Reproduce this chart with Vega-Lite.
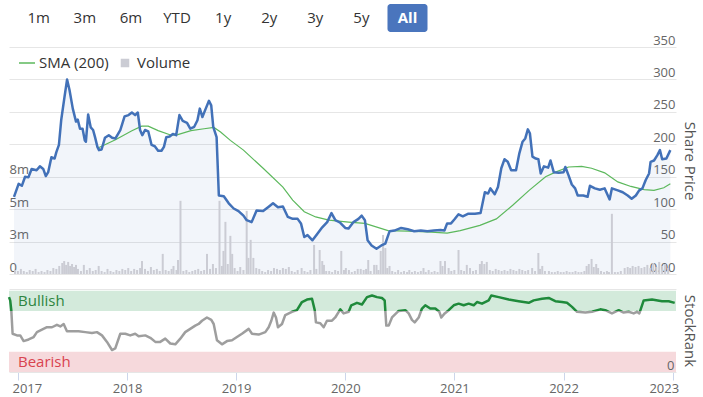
{
"$schema": "https://vega.github.io/schema/vega-lite/v6.json",
"padding": {"left": 7, "top": 4, "right": 6, "bottom": 0},
"bounds": "flush",
"spacing": 15,
"resolve": {"scale": {"x": "independent", "y": "independent", "color": "independent"}},
"config": {"view": {"stroke": null}, "font": "Open Sans"},
"datasets": {
"buttons": [{"label":"1m"},{"label":"3m"},{"label":"6m"},{"label":"YTD"},{"label":"1y"},{"label":"2y"},{"label":"3y"},{"label":"5y"},{"label":"All"}],
"bands": [{"band":"Bullish","lo":75,"hi":100},{"band":"Bearish","lo":0,"hi":25}],
"price": [
{"t":2016.918,"p":119},{"t":2016.961,"p":139},{"t":2016.991,"p":136},{"t":2017.021,"p":150},{"t":2017.052,"p":149},{"t":2017.082,"p":162},{"t":2017.128,"p":160},{"t":2017.159,"p":166},{"t":2017.19,"p":162},{"t":2017.214,"p":151},{"t":2017.236,"p":157},{"t":2017.266,"p":180},{"t":2017.296,"p":178},{"t":2017.312,"p":188},{"t":2017.336,"p":199},{"t":2017.357,"p":237},{"t":2017.388,"p":273},{"t":2017.412,"p":300},{"t":2017.434,"p":284},{"t":2017.465,"p":255},{"t":2017.495,"p":235},{"t":2017.511,"p":238},{"t":2017.532,"p":224},{"t":2017.556,"p":224},{"t":2017.577,"p":206},{"t":2017.587,"p":204},{"t":2017.608,"p":246},{"t":2017.632,"p":226},{"t":2017.654,"p":222},{"t":2017.672,"p":211},{"t":2017.694,"p":196},{"t":2017.709,"p":191},{"t":2017.733,"p":192},{"t":2017.764,"p":210},{"t":2017.8,"p":214},{"t":2017.831,"p":210},{"t":2017.862,"p":209},{"t":2017.907,"p":222},{"t":2017.947,"p":243},{"t":2017.984,"p":245},{"t":2018.015,"p":249},{"t":2018.045,"p":245},{"t":2018.07,"p":249},{"t":2018.091,"p":222},{"t":2018.112,"p":214},{"t":2018.137,"p":222},{"t":2018.167,"p":220},{"t":2018.198,"p":199},{"t":2018.228,"p":197},{"t":2018.259,"p":190},{"t":2018.29,"p":190},{"t":2018.313,"p":196},{"t":2018.335,"p":211},{"t":2018.366,"p":212},{"t":2018.396,"p":216},{"t":2018.427,"p":214},{"t":2018.457,"p":245},{"t":2018.488,"p":236},{"t":2018.528,"p":233},{"t":2018.558,"p":224},{"t":2018.595,"p":227},{"t":2018.625,"p":237},{"t":2018.647,"p":255},{"t":2018.671,"p":242},{"t":2018.702,"p":255},{"t":2018.732,"p":267},{"t":2018.753,"p":260},{"t":2018.772,"p":227},{"t":2018.803,"p":211},{"t":2018.824,"p":121},{"t":2018.87,"p":120},{"t":2018.916,"p":109},{"t":2018.962,"p":101},{"t":2019.007,"p":97},{"t":2019.053,"p":90},{"t":2019.083,"p":83},{"t":2019.129,"p":80},{"t":2019.175,"p":98},{"t":2019.236,"p":97},{"t":2019.282,"p":103},{"t":2019.328,"p":109},{"t":2019.374,"p":103},{"t":2019.42,"p":104},{"t":2019.466,"p":88},{"t":2019.511,"p":85},{"t":2019.557,"p":85},{"t":2019.588,"p":78},{"t":2019.619,"p":57},{"t":2019.649,"p":60},{"t":2019.695,"p":52},{"t":2019.741,"p":62},{"t":2019.786,"p":72},{"t":2019.832,"p":80},{"t":2019.872,"p":94},{"t":2019.908,"p":83},{"t":2019.954,"p":79},{"t":2020.0,"p":71},{"t":2020.031,"p":70},{"t":2020.077,"p":80},{"t":2020.123,"p":85},{"t":2020.153,"p":90},{"t":2020.183,"p":83},{"t":2020.208,"p":52},{"t":2020.245,"p":44},{"t":2020.291,"p":39},{"t":2020.336,"p":44},{"t":2020.373,"p":47},{"t":2020.413,"p":66},{"t":2020.458,"p":67},{"t":2020.52,"p":71},{"t":2020.581,"p":69},{"t":2020.642,"p":66},{"t":2020.703,"p":67},{"t":2020.764,"p":66},{"t":2020.825,"p":67},{"t":2020.886,"p":68},{"t":2020.923,"p":67},{"t":2020.948,"p":78},{"t":2020.984,"p":78},{"t":2021.015,"p":84},{"t":2021.054,"p":92},{"t":2021.094,"p":89},{"t":2021.146,"p":93},{"t":2021.207,"p":93},{"t":2021.259,"p":94},{"t":2021.299,"p":126},{"t":2021.329,"p":124},{"t":2021.351,"p":132},{"t":2021.391,"p":123},{"t":2021.421,"p":134},{"t":2021.452,"p":163},{"t":2021.482,"p":177},{"t":2021.512,"p":173},{"t":2021.544,"p":160},{"t":2021.589,"p":160},{"t":2021.62,"p":186},{"t":2021.65,"p":204},{"t":2021.675,"p":209},{"t":2021.699,"p":223},{"t":2021.718,"p":217},{"t":2021.742,"p":181},{"t":2021.773,"p":178},{"t":2021.797,"p":177},{"t":2021.819,"p":155},{"t":2021.849,"p":166},{"t":2021.888,"p":164},{"t":2021.91,"p":175},{"t":2021.94,"p":157},{"t":2021.986,"p":156},{"t":2022.032,"p":157},{"t":2022.048,"p":165},{"t":2022.078,"p":152},{"t":2022.108,"p":138},{"t":2022.139,"p":132},{"t":2022.163,"p":121},{"t":2022.215,"p":121},{"t":2022.255,"p":119},{"t":2022.277,"p":136},{"t":2022.323,"p":132},{"t":2022.369,"p":130},{"t":2022.414,"p":132},{"t":2022.46,"p":115},{"t":2022.481,"p":132},{"t":2022.536,"p":129},{"t":2022.582,"p":126},{"t":2022.628,"p":121},{"t":2022.665,"p":116},{"t":2022.704,"p":121},{"t":2022.735,"p":129},{"t":2022.765,"p":132},{"t":2022.796,"p":145},{"t":2022.827,"p":155},{"t":2022.841,"p":173},{"t":2022.873,"p":175},{"t":2022.903,"p":183},{"t":2022.928,"p":191},{"t":2022.949,"p":177},{"t":2022.988,"p":178},{"t":2023.025,"p":191}
],
"sma": [
{"t":2017.709,"s":195},{"t":2017.862,"s":207},{"t":2018.015,"s":221},{"t":2018.106,"s":228},{"t":2018.167,"s":228},{"t":2018.259,"s":221},{"t":2018.381,"s":214},{"t":2018.442,"s":215},{"t":2018.565,"s":221},{"t":2018.687,"s":224},{"t":2018.778,"s":226},{"t":2018.84,"s":219},{"t":2018.931,"s":206},{"t":2019.053,"s":191},{"t":2019.236,"s":163},{"t":2019.42,"s":134},{"t":2019.511,"s":114},{"t":2019.619,"s":96},{"t":2019.725,"s":88},{"t":2019.848,"s":83},{"t":2020.031,"s":80},{"t":2020.183,"s":78},{"t":2020.398,"s":67},{"t":2020.581,"s":66},{"t":2020.764,"s":65},{"t":2020.948,"s":63},{"t":2021.07,"s":67},{"t":2021.253,"s":75},{"t":2021.406,"s":85},{"t":2021.558,"s":106},{"t":2021.711,"s":129},{"t":2021.864,"s":150},{"t":2021.956,"s":157},{"t":2022.078,"s":165},{"t":2022.2,"s":166},{"t":2022.292,"s":163},{"t":2022.414,"s":156},{"t":2022.536,"s":142},{"t":2022.658,"s":135},{"t":2022.781,"s":130},{"t":2022.873,"s":129},{"t":2022.964,"s":133},{"t":2023.025,"s":139}
],
"rank": [
{"t":2016.918,"r":92},{"t":2016.929,"r":88},{"t":2016.939,"r":76},{"t":2016.951,"r":47},{"t":2016.991,"r":45},{"t":2017.021,"r":45},{"t":2017.052,"r":38},{"t":2017.098,"r":40},{"t":2017.144,"r":43},{"t":2017.174,"r":49},{"t":2017.22,"r":52},{"t":2017.266,"r":55},{"t":2017.312,"r":55},{"t":2017.357,"r":58},{"t":2017.388,"r":56},{"t":2017.419,"r":59},{"t":2017.449,"r":50},{"t":2017.495,"r":50},{"t":2017.556,"r":50},{"t":2017.617,"r":49},{"t":2017.678,"r":48},{"t":2017.724,"r":49},{"t":2017.77,"r":45},{"t":2017.816,"r":37},{"t":2017.862,"r":27},{"t":2017.892,"r":29},{"t":2017.938,"r":47},{"t":2017.984,"r":47},{"t":2018.029,"r":45},{"t":2018.075,"r":47},{"t":2018.106,"r":44},{"t":2018.167,"r":45},{"t":2018.213,"r":42},{"t":2018.259,"r":37},{"t":2018.304,"r":37},{"t":2018.35,"r":41},{"t":2018.396,"r":35},{"t":2018.442,"r":34},{"t":2018.488,"r":41},{"t":2018.533,"r":49},{"t":2018.579,"r":53},{"t":2018.625,"r":57},{"t":2018.656,"r":59},{"t":2018.687,"r":63},{"t":2018.732,"r":67},{"t":2018.772,"r":64},{"t":2018.794,"r":59},{"t":2018.824,"r":39},{"t":2018.87,"r":34},{"t":2018.916,"r":38},{"t":2018.962,"r":39},{"t":2019.007,"r":43},{"t":2019.053,"r":47},{"t":2019.115,"r":53},{"t":2019.145,"r":47},{"t":2019.206,"r":46},{"t":2019.267,"r":49},{"t":2019.298,"r":55},{"t":2019.322,"r":63},{"t":2019.344,"r":73},{"t":2019.365,"r":67},{"t":2019.383,"r":55},{"t":2019.42,"r":59},{"t":2019.45,"r":70},{"t":2019.511,"r":74},{"t":2019.557,"r":76},{"t":2019.603,"r":86},{"t":2019.649,"r":89},{"t":2019.695,"r":90},{"t":2019.72,"r":76},{"t":2019.731,"r":61},{"t":2019.771,"r":60},{"t":2019.802,"r":55},{"t":2019.832,"r":63},{"t":2019.878,"r":63},{"t":2019.908,"r":67},{"t":2019.954,"r":77},{"t":2019.985,"r":72},{"t":2020.031,"r":74},{"t":2020.055,"r":82},{"t":2020.107,"r":85},{"t":2020.153,"r":83},{"t":2020.199,"r":92},{"t":2020.245,"r":94},{"t":2020.291,"r":92},{"t":2020.336,"r":91},{"t":2020.361,"r":88},{"t":2020.376,"r":57},{"t":2020.398,"r":57},{"t":2020.428,"r":67},{"t":2020.489,"r":75},{"t":2020.55,"r":76},{"t":2020.581,"r":72},{"t":2020.611,"r":64},{"t":2020.636,"r":61},{"t":2020.673,"r":67},{"t":2020.703,"r":78},{"t":2020.733,"r":82},{"t":2020.779,"r":78},{"t":2020.825,"r":78},{"t":2020.862,"r":74},{"t":2020.88,"r":67},{"t":2020.911,"r":72},{"t":2020.948,"r":76},{"t":2020.994,"r":82},{"t":2021.039,"r":84},{"t":2021.085,"r":82},{"t":2021.131,"r":84},{"t":2021.177,"r":82},{"t":2021.207,"r":86},{"t":2021.253,"r":84},{"t":2021.314,"r":88},{"t":2021.338,"r":94},{"t":2021.406,"r":92},{"t":2021.498,"r":89},{"t":2021.589,"r":87},{"t":2021.681,"r":85},{"t":2021.727,"r":88},{"t":2021.803,"r":90},{"t":2021.864,"r":91},{"t":2021.925,"r":87},{"t":2021.986,"r":86},{"t":2022.032,"r":85},{"t":2022.078,"r":80},{"t":2022.124,"r":74},{"t":2022.2,"r":73},{"t":2022.261,"r":74},{"t":2022.337,"r":77},{"t":2022.383,"r":76},{"t":2022.444,"r":72},{"t":2022.506,"r":76},{"t":2022.551,"r":73},{"t":2022.597,"r":74},{"t":2022.643,"r":72},{"t":2022.673,"r":74},{"t":2022.695,"r":72},{"t":2022.735,"r":88},{"t":2022.811,"r":89},{"t":2022.903,"r":87},{"t":2022.964,"r":87},{"t":2023.019,"r":85}
],
"volume": [
{"t":2016.927,"v":0.31},{"t":2016.954,"v":0.23},{"t":2016.982,"v":0.39},{"t":2017.009,"v":0.23},{"t":2017.037,"v":0.15},{"t":2017.064,"v":0.31},{"t":2017.092,"v":0.23},{"t":2017.119,"v":0.39},{"t":2017.147,"v":0.15},{"t":2017.174,"v":0.23},{"t":2017.202,"v":0.15},{"t":2017.229,"v":0.31},{"t":2017.257,"v":0.23},{"t":2017.284,"v":0.46},{"t":2017.312,"v":0.39},{"t":2017.339,"v":0.62},{"t":2017.367,"v":0.85},{"t":2017.385,"v":1.0},{"t":2017.403,"v":0.7},{"t":2017.422,"v":0.93},{"t":2017.44,"v":0.62},{"t":2017.458,"v":0.77},{"t":2017.477,"v":0.54},{"t":2017.495,"v":0.7},{"t":2017.513,"v":0.39},{"t":2017.541,"v":0.23},{"t":2017.568,"v":0.7},{"t":2017.596,"v":0.31},{"t":2017.623,"v":0.46},{"t":2017.651,"v":0.23},{"t":2017.678,"v":0.31},{"t":2017.706,"v":0.62},{"t":2017.733,"v":0.23},{"t":2017.761,"v":0.15},{"t":2017.788,"v":0.39},{"t":2017.816,"v":0.23},{"t":2017.843,"v":0.15},{"t":2017.871,"v":0.31},{"t":2017.898,"v":0.23},{"t":2017.926,"v":0.39},{"t":2017.953,"v":0.31},{"t":2017.981,"v":0.46},{"t":2018.008,"v":0.23},{"t":2018.036,"v":0.39},{"t":2018.063,"v":0.31},{"t":2018.091,"v":0.46},{"t":2018.109,"v":1.0},{"t":2018.137,"v":0.39},{"t":2018.164,"v":0.23},{"t":2018.192,"v":0.54},{"t":2018.219,"v":0.31},{"t":2018.247,"v":0.39},{"t":2018.274,"v":0.23},{"t":2018.302,"v":1.55},{"t":2018.329,"v":0.31},{"t":2018.357,"v":0.23},{"t":2018.384,"v":0.39},{"t":2018.402,"v":0.62},{"t":2018.43,"v":0.31},{"t":2018.444,"v":1.08},{"t":2018.467,"v":5.64},{"t":2018.494,"v":0.23},{"t":2018.522,"v":0.31},{"t":2018.549,"v":0.15},{"t":2018.577,"v":0.23},{"t":2018.604,"v":0.31},{"t":2018.632,"v":0.39},{"t":2018.659,"v":0.23},{"t":2018.687,"v":0.31},{"t":2018.714,"v":1.55},{"t":2018.742,"v":0.39},{"t":2018.769,"v":0.77},{"t":2018.797,"v":0.46},{"t":2018.83,"v":5.64},{"t":2018.852,"v":0.62},{"t":2018.867,"v":1.78},{"t":2018.885,"v":4.02},{"t":2018.907,"v":0.77},{"t":2018.931,"v":2.94},{"t":2018.948,"v":1.55},{"t":2018.971,"v":0.46},{"t":2018.998,"v":0.23},{"t":2019.023,"v":0.54},{"t":2019.053,"v":0.31},{"t":2019.083,"v":4.87},{"t":2019.099,"v":1.24},{"t":2019.12,"v":2.63},{"t":2019.145,"v":1.24},{"t":2019.172,"v":0.46},{"t":2019.2,"v":0.39},{"t":2019.227,"v":0.23},{"t":2019.255,"v":0.15},{"t":2019.282,"v":0.31},{"t":2019.31,"v":0.23},{"t":2019.337,"v":0.46},{"t":2019.365,"v":0.39},{"t":2019.392,"v":0.31},{"t":2019.42,"v":0.46},{"t":2019.447,"v":0.39},{"t":2019.475,"v":0.54},{"t":2019.502,"v":0.23},{"t":2019.53,"v":0.15},{"t":2019.557,"v":0.31},{"t":2019.594,"v":0.46},{"t":2019.621,"v":0.23},{"t":2019.649,"v":0.15},{"t":2019.676,"v":0.31},{"t":2019.71,"v":2.24},{"t":2019.731,"v":0.39},{"t":2019.762,"v":1.85},{"t":2019.786,"v":1.0},{"t":2019.802,"v":0.7},{"t":2019.823,"v":0.23},{"t":2019.851,"v":0.23},{"t":2019.878,"v":0.15},{"t":2019.906,"v":0.31},{"t":2019.933,"v":0.23},{"t":2019.963,"v":1.78},{"t":2019.988,"v":0.31},{"t":2020.006,"v":0.46},{"t":2020.034,"v":0.31},{"t":2020.061,"v":0.15},{"t":2020.089,"v":0.23},{"t":2020.116,"v":0.39},{"t":2020.144,"v":0.39},{"t":2020.171,"v":0.31},{"t":2020.194,"v":0.39},{"t":2020.214,"v":1.08},{"t":2020.236,"v":0.23},{"t":2020.269,"v":0.7},{"t":2020.291,"v":0.7},{"t":2020.309,"v":0.31},{"t":2020.33,"v":1.78},{"t":2020.352,"v":3.01},{"t":2020.373,"v":2.0},{"t":2020.391,"v":0.46},{"t":2020.412,"v":0.62},{"t":2020.437,"v":0.23},{"t":2020.465,"v":0.15},{"t":2020.492,"v":0.31},{"t":2020.52,"v":0.15},{"t":2020.547,"v":0.23},{"t":2020.575,"v":0.15},{"t":2020.596,"v":0.31},{"t":2020.621,"v":0.15},{"t":2020.648,"v":0.23},{"t":2020.676,"v":0.15},{"t":2020.703,"v":0.23},{"t":2020.728,"v":0.46},{"t":2020.749,"v":0.15},{"t":2020.776,"v":0.31},{"t":2020.804,"v":0.15},{"t":2020.831,"v":0.23},{"t":2020.859,"v":0.15},{"t":2020.886,"v":1.0},{"t":2020.905,"v":0.62},{"t":2020.928,"v":1.0},{"t":2020.962,"v":0.46},{"t":2020.987,"v":0.23},{"t":2021.015,"v":0.31},{"t":2021.054,"v":1.85},{"t":2021.079,"v":0.31},{"t":2021.106,"v":0.23},{"t":2021.131,"v":0.7},{"t":2021.161,"v":0.46},{"t":2021.189,"v":0.23},{"t":2021.216,"v":0.31},{"t":2021.253,"v":0.77},{"t":2021.271,"v":1.0},{"t":2021.294,"v":0.77},{"t":2021.317,"v":0.93},{"t":2021.345,"v":0.31},{"t":2021.372,"v":0.23},{"t":2021.4,"v":0.39},{"t":2021.427,"v":0.31},{"t":2021.455,"v":0.23},{"t":2021.482,"v":0.31},{"t":2021.51,"v":0.23},{"t":2021.537,"v":0.39},{"t":2021.565,"v":0.31},{"t":2021.592,"v":0.23},{"t":2021.62,"v":0.39},{"t":2021.647,"v":0.31},{"t":2021.675,"v":0.23},{"t":2021.702,"v":0.31},{"t":2021.739,"v":0.46},{"t":2021.766,"v":0.23},{"t":2021.797,"v":1.62},{"t":2021.812,"v":0.39},{"t":2021.833,"v":0.62},{"t":2021.858,"v":0.23},{"t":2021.895,"v":0.23},{"t":2021.922,"v":0.15},{"t":2021.95,"v":0.15},{"t":2021.977,"v":0.23},{"t":2022.005,"v":0.15},{"t":2022.032,"v":0.15},{"t":2022.06,"v":0.23},{"t":2022.087,"v":0.15},{"t":2022.115,"v":0.15},{"t":2022.142,"v":0.23},{"t":2022.17,"v":0.15},{"t":2022.197,"v":0.15},{"t":2022.225,"v":0.23},{"t":2022.246,"v":0.62},{"t":2022.266,"v":0.77},{"t":2022.292,"v":1.16},{"t":2022.312,"v":0.54},{"t":2022.335,"v":0.77},{"t":2022.353,"v":0.46},{"t":2022.38,"v":0.23},{"t":2022.408,"v":0.15},{"t":2022.435,"v":0.23},{"t":2022.454,"v":0.15},{"t":2022.481,"v":4.64},{"t":2022.509,"v":0.15},{"t":2022.536,"v":0.15},{"t":2022.564,"v":0.23},{"t":2022.6,"v":0.46},{"t":2022.628,"v":0.54},{"t":2022.651,"v":0.46},{"t":2022.674,"v":0.62},{"t":2022.701,"v":0.54},{"t":2022.729,"v":0.62},{"t":2022.756,"v":0.46},{"t":2022.784,"v":0.54},{"t":2022.811,"v":0.7},{"t":2022.839,"v":0.46},{"t":2022.866,"v":0.85},{"t":2022.894,"v":0.54},{"t":2022.921,"v":0.93},{"t":2022.949,"v":0.62},{"t":2022.976,"v":0.77},{"t":2023.004,"v":0.46}
]
},
"vconcat": [
{
"width": 667, "height": 28,
"data": {"name": "buttons"},
"layer": [
{"transform": [{"filter": "datum.label === 'All'"}],
 "mark": {"type": "rect", "color": "#4a75bd", "cornerRadius": 3},
 "encoding": {"x": {"field": "label", "type": "nominal", "sort": null, "axis": null, "scale": {"type": "band", "domain": ["1m","3m","6m","YTD","1y","2y","3y","5y","All"], "range": [9.7, 418.5], "paddingInner": 0.132, "paddingOuter": 0}}}},
{"transform": [{"filter": "datum.label !== 'All'"}],
 "mark": {"type": "text", "fontSize": 15, "color": "#333333", "font": "Open Sans"},
 "encoding": {"x": {"field": "label", "type": "nominal", "sort": null, "axis": null, "scale": {"type": "band", "domain": ["1m","3m","6m","YTD","1y","2y","3y","5y","All"], "range": [9.7, 418.5], "paddingInner": 0.132, "paddingOuter": 0}}, "text": {"field": "label"}}},
{"transform": [{"filter": "datum.label === 'All'"}],
 "mark": {"type": "text", "fontSize": 15, "color": "#ffffff", "fontWeight": "bold", "font": "Open Sans"},
 "encoding": {"x": {"field": "label", "type": "nominal", "sort": null, "axis": null, "scale": {"type": "band", "domain": ["1m","3m","6m","YTD","1y","2y","3y","5y","All"], "range": [9.7, 418.5], "paddingInner": 0.132, "paddingOuter": 0}}, "text": {"field": "label"}}}
]
},
{
"width": 667, "height": 227,
"resolve": {"scale": {"y": "independent"}},
"layer": [
{"data": {"name": "price"},
 "mark": {"type": "area", "color": "#4271b8", "opacity": 0.07},
 "encoding": {
  "x": {"field": "t", "type": "quantitative", "axis": null, "scale": {"domain": [2016.918, 2023.031], "nice": false, "zero": false}},
  "y": {"field": "p", "type": "quantitative", "scale": {"domain": [0, 350], "nice": false},
   "axis": {"orient": "right", "values": [0,50,100,150,200,250,300,350], "labelExpr": "datum.value == 0 ? '0.00' : datum.label", "grid": true, "gridColor": "#e6e6e6", "domain": false, "ticks": false, "tickSize": 0, "labelAlign": "right", "labelPadding": -1, "labelBaseline": "alphabetic", "labelOffset": -3, "labelColor": "#666666", "labelFontSize": 13, "labelFont": "Open Sans", "title": "Share Price", "titleAngle": 90, "titleFontSize": 15, "titleFontWeight": "normal", "titleColor": "#555555", "titleFont": "Open Sans", "titlePadding": 5}}}},
{"data": {"name": "volume"},
 "mark": {"type": "bar", "width": 2},
 "encoding": {
  "x": {"field": "t", "type": "quantitative", "axis": null, "scale": {"domain": [2016.918, 2023.031], "nice": false, "zero": false}},
  "y": {"field": "v", "type": "quantitative", "scale": {"domain": [0, 17.5], "nice": false},
   "axis": {"orient": "left", "values": [0, 2.5, 5, 7.5], "labelExpr": "datum.value == 0 ? '0' : round(datum.value) + 'm'", "grid": false, "domain": false, "ticks": false, "tickSize": 0, "labelAlign": "left", "labelPadding": 0, "labelBaseline": "alphabetic", "labelOffset": -3, "labelColor": "#666666", "labelFontSize": 13, "labelFont": "Open Sans", "title": null}},
  "color": {"datum": "Volume", "type": "nominal", "scale": {"domain": ["SMA (200)", "Volume"], "range": ["#5cb85c", "#cbccd4"]},
   "legend": {"orient": "none", "legendX": 9, "legendY": 7, "direction": "horizontal", "title": null, "labelFontSize": 15, "labelColor": "#333333", "labelFont": "Open Sans", "labelOffset": 3, "columnPadding": 7, "padding": 0, "symbolSize": 256, "symbolStrokeWidth": 1.5,
    "encode": {"symbols": {"update": {"shape": {"signal": "datum.value === 'Volume' ? 'square' : 'stroke'"}, "size": {"signal": "datum.value === 'Volume' ? 49 : 256"}, "fill": {"signal": "datum.value === 'Volume' ? '#aaaaaa' : 'transparent'"}, "stroke": {"signal": "datum.value === 'Volume' ? 'transparent' : '#5cb85c'"}}}}}}}},
{"data": {"name": "sma"},
 "mark": {"type": "line", "strokeWidth": 1.2},
 "encoding": {
  "x": {"field": "t", "type": "quantitative", "axis": null, "scale": {"domain": [2016.918, 2023.031], "nice": false, "zero": false}},
  "y": {"field": "s", "type": "quantitative", "scale": {"domain": [0, 350], "nice": false}, "axis": null},
  "color": {"datum": "SMA (200)", "type": "nominal", "scale": {"domain": ["SMA (200)", "Volume"], "range": ["#5cb85c", "#cbccd4"]},
   "legend": {"orient": "none", "legendX": 9, "legendY": 7, "direction": "horizontal", "title": null, "labelFontSize": 15, "labelColor": "#333333", "labelFont": "Open Sans", "labelOffset": 3, "columnPadding": 7, "padding": 0, "symbolSize": 256, "symbolStrokeWidth": 1.5,
    "encode": {"symbols": {"update": {"shape": {"signal": "datum.value === 'Volume' ? 'square' : 'stroke'"}, "size": {"signal": "datum.value === 'Volume' ? 49 : 256"}, "fill": {"signal": "datum.value === 'Volume' ? '#aaaaaa' : 'transparent'"}, "stroke": {"signal": "datum.value === 'Volume' ? 'transparent' : '#5cb85c'"}}}}}}}},
{"data": {"name": "price"},
 "mark": {"type": "line", "color": "#4271b8", "strokeWidth": 2.5, "strokeJoin": "round"},
 "encoding": {
  "x": {"field": "t", "type": "quantitative", "axis": null, "scale": {"domain": [2016.918, 2023.031], "nice": false, "zero": false}},
  "y": {"field": "p", "type": "quantitative", "scale": {"domain": [0, 350], "nice": false}, "axis": null}}}
]
},
{
"width": 667, "height": 83,
"resolve": {"scale": {"y": "independent"}, "axis": {"x": "independent"}},
"layer": [
{"data": {"name": "bands"},
 "mark": {"type": "rect"},
 "encoding": {
  "y": {"field": "lo", "type": "quantitative", "scale": {"domain": [0, 102], "nice": false},
   "axis": {"orient": "right", "zindex": 1, "values": [0, 102], "labelExpr": "datum.value == 0 ? '0' : ''", "grid": true, "gridColor": "#e6e6e6", "domain": false, "ticks": false, "tickSize": 0, "labelAlign": "right", "labelPadding": -2, "labelBaseline": "alphabetic", "labelOffset": -3, "labelColor": "#666666", "labelFontSize": 13, "labelFont": "Open Sans", "title": "StockRank", "titleAngle": 90, "titleFontSize": 15, "titleFontWeight": "normal", "titleColor": "#555555", "titleFont": "Open Sans", "titlePadding": 5}},
  "y2": {"field": "hi"},
  "color": {"condition": {"test": "datum.band === 'Bullish'", "value": "#d3eadb"}, "value": "#f6d9dc"}}},
{"data": {"name": "bands"},
 "mark": {"type": "text", "align": "left", "baseline": "top", "dx": 9, "dy": 3, "fontSize": 15, "font": "Open Sans"},
 "encoding": {
  "x": {"datum": 2016.918, "type": "quantitative", "scale": {"domain": [2016.918, 2023.031], "nice": false, "zero": false},
   "axis": {"orient": "bottom", "offset": 24, "domain": true, "domainColor": "#dde3ee", "labels": false, "ticks": false, "grid": false, "title": null}},
  "y": {"field": "hi", "type": "quantitative", "scale": {"domain": [0, 102], "nice": false}, "axis": null},
  "text": {"field": "band"},
  "color": {"condition": {"test": "datum.band === 'Bullish'", "value": "#2e8540"}, "value": "#d9434f"}}},
{"data": {"name": "rank"},
 "mark": {"type": "line", "strokeWidth": 2.5, "strokeJoin": "round",
  "color": {"gradient": "linear", "x1": 0, "y1": 0, "x2": 0, "y2": 1, "stops": [{"offset": 0, "color": "#1f8a3b"}, {"offset": 0.2836, "color": "#1f8a3b"}, {"offset": 0.2836, "color": "#9e9e9e"}, {"offset": 1, "color": "#9e9e9e"}]}},
 "encoding": {
  "x": {"field": "t", "type": "quantitative", "scale": {"domain": [2016.918, 2023.031], "nice": false, "zero": false},
   "axis": {"orient": "bottom", "values": [2017,2018,2019,2020,2021,2022,2023], "format": "d", "domain": false, "ticks": true, "tickColor": "#ccd6eb", "tickSize": 8, "labelFlush": 12, "labelFlushOffset": 6, "labelPadding": 2, "labelColor": "#666666", "labelFontSize": 13, "labelFont": "Open Sans", "grid": false, "title": null}},
  "y": {"field": "r", "type": "quantitative", "scale": {"domain": [0, 102], "nice": false}, "axis": null}}}
]
}
]
}
